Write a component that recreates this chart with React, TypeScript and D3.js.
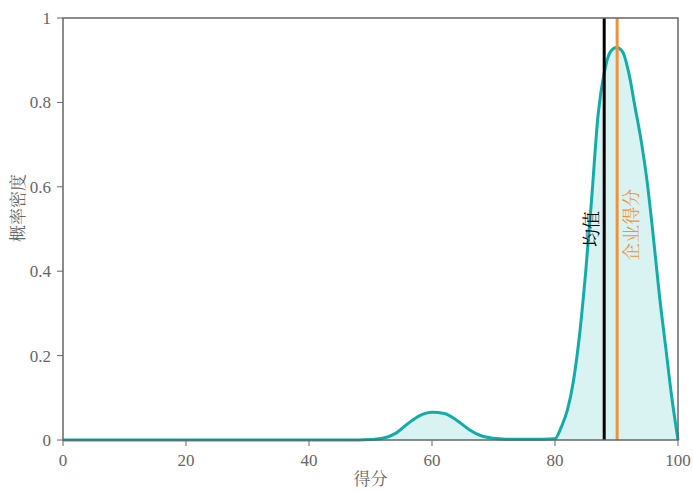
import * as d3 from 'd3';

const xs = [0, 10, 20, 30, 40, 48, 50, 52, 54, 56, 58, 60, 62, 64, 66, 68, 70, 72, 75, 78, 80, 81, 82, 83, 84, 85, 86, 87, 88, 89, 90, 91, 92, 93, 94, 95, 96, 97, 98, 99, 100];
const ys = [0, 0, 0, 0, 0, 0, 0.001, 0.004, 0.015, 0.038, 0.058, 0.066, 0.063, 0.047, 0.025, 0.01, 0.004, 0.002, 0.002, 0.002, 0.003, 0.03, 0.07, 0.14, 0.25, 0.4, 0.58, 0.77, 0.87, 0.92, 0.93, 0.92, 0.87, 0.79, 0.71, 0.61, 0.48, 0.34, 0.22, 0.1, 0];
const xTicks = [0, 20, 40, 60, 80, 100];
const yTicks = [0, 0.2, 0.4, 0.6, 0.8, 1];
const meanScore = 88;
const companyScore = 90.1;

const W = 693, H = 492;
const M = { left: 63, right: 15, top: 18, bottom: 52 };

export default function App() {
  const x = d3.scaleLinear().domain([0, 100]).range([M.left, W - M.right]);
  const y = d3.scaleLinear().domain([0, 1]).range([H - M.bottom, M.top]);
  const pts = xs.map((v, i) => [v, ys[i]] as [number, number]);
  const line = d3.line<[number, number]>().x(d => x(d[0])).y(d => y(d[1])).curve(d3.curveMonotoneX);
  const area = d3.area<[number, number]>().x(d => x(d[0])).y0(y(0)).y1(d => y(d[1])).curve(d3.curveMonotoneX);
  const font = '"Liberation Serif", "Noto Serif CJK SC", serif';
  const grey = '#666';
  return (
    <svg width={W} height={H} style={{ position: 'absolute', left: 0, top: 0 }} fontFamily={font}>
      <path d={area(pts)!} fill="#d9f3f3" />
      <path d={line(pts)!} fill="none" stroke="#13ada9" strokeWidth={3} />
      <line x1={x(meanScore)} x2={x(meanScore)} y1={y(1)} y2={y(0)} stroke="#000" strokeWidth={3} />
      <line x1={x(companyScore)} x2={x(companyScore)} y1={y(1)} y2={y(0)} stroke="#f0923a" strokeWidth={3} />
      <text transform={`translate(${x(meanScore) - 6},${y(0.5)}) rotate(-90)`} textAnchor="middle" fontSize={18} fill="#000">均值</text>
      <text transform={`translate(${x(companyScore) + 21},${y(0.51)}) rotate(-90)`} textAnchor="middle" fontSize={18} fill="#f0923a">企业得分</text>
      <rect x={M.left} y={M.top} width={W - M.left - M.right} height={H - M.top - M.bottom} fill="none" stroke={grey} strokeWidth={1.5} />
      {xTicks.map(t => (
        <g key={t}>
          <line x1={x(t)} x2={x(t)} y1={y(0)} y2={y(0) + 6} stroke={grey} />
          <text x={x(t)} y={y(0) + 26} textAnchor="middle" fontSize={17} fill={grey}>{t}</text>
        </g>
      ))}
      {yTicks.map(t => (
        <g key={t}>
          <line x1={M.left - 6} x2={M.left} y1={y(t)} y2={y(t)} stroke={grey} />
          <text x={M.left - 12} y={y(t) + 6} textAnchor="end" fontSize={17} fill={grey}>{t}</text>
        </g>
      ))}
      <text x={x(50)} y={H - 7} textAnchor="middle" fontSize={17} fill={grey}>得分</text>
      <text transform={`translate(24,${y(0.55)}) rotate(-90)`} textAnchor="middle" fontSize={17} fill={grey}>概率密度</text>
    </svg>
  );
}
